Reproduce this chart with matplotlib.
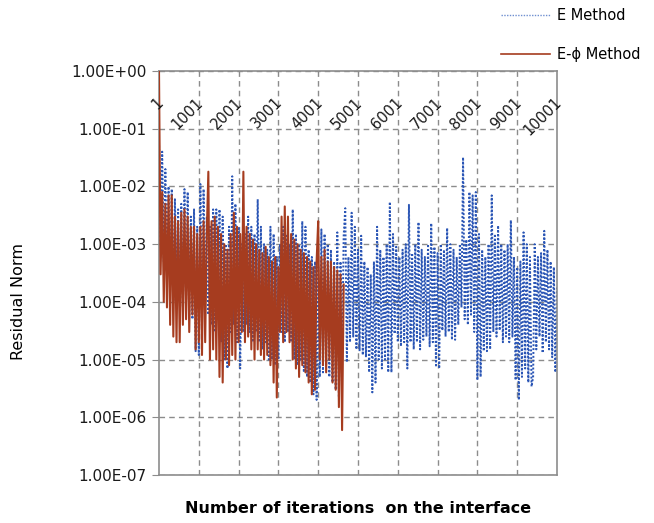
import numpy as np
import matplotlib
matplotlib.use("Agg")
import matplotlib.pyplot as plt
from matplotlib.lines import Line2D

# ----------------------------------------------------------------------
# --- Data (one value every 40 iterations) ---
sample_step = 40

# E-phi method residual norm (iterations 1 .. 4641)
resid_e_phi = [
    1.0, 3e-4, 8e-3, 1e-4, 5e-3, 8e-5, 7e-3, 4e-5, 7e-3, 2.5e-5,
    3e-3, 2e-5, 2.5e-3, 2e-5, 3.5e-3, 4e-5, 4e-3, 5e-5, 3e-3, 3e-5,
    2e-3, 6e-5, 2e-3, 1.5e-5, 1.5e-3, 2e-5, 2e-3, 1.2e-5, 2.5e-3, 2e-5,
    1.5e-3, 1.8e-2, 1e-5, 2.5e-3, 1.5e-5, 3e-3, 1e-5, 2e-3, 5e-6, 1.5e-3,
    4e-6, 1e-3, 1e-5, 8e-4, 8e-6, 1.5e-3, 1.2e-5, 3.5e-3, 1e-5, 2e-3,
    2e-5, 1.5e-3, 3e-5, 1.8e-2, 2e-5, 2e-3, 2.5e-5, 1.5e-3, 1.5e-5, 1.2e-3,
    1e-5, 1e-3, 1.5e-5, 8e-4, 1.2e-5, 7e-4, 1e-5, 9e-4, 1.2e-5, 6e-4,
    8e-6, 5e-4, 4e-6, 6e-4, 2.2e-6, 4e-4, 3e-5, 3e-3, 2e-5, 4.5e-3,
    3e-5, 3e-3, 2e-5, 1.5e-3, 1e-5, 1.2e-3, 7e-6, 1e-3, 5e-6, 8e-4,
    8e-6, 7e-4, 6e-6, 6e-4, 4e-6, 5e-4, 2.5e-6, 4e-4, 3e-6, 5e-4,
    2.5e-3, 1e-5, 6e-4, 8e-6, 8e-4, 6e-6, 5e-4, 1e-5, 5e-4, 4e-6,
    4e-4, 3e-6, 3.5e-4, 1.5e-6, 3e-4, 6e-7, 2e-4,
]

# E method residual norm (iterations 1 .. 10001)
resid_e = [
    6e-2, 1e-3, 4e-2, 5e-4, 2e-2, 3e-4, 1e-2, 2e-4, 9e-3, 1e-4,
    6e-3, 2e-4, 4e-3, 1e-4, 5e-3, 8e-5, 9e-3, 1e-4, 8e-3, 6e-5,
    3e-3, 5e-5, 4e-3, 1.4e-5, 2e-3, 1.2e-5, 1.1e-2, 5e-5, 9e-3, 1e-4,
    3e-3, 6e-5, 2e-3, 4e-5, 4e-3, 3e-5, 4e-3, 5e-5, 4e-3, 2e-5,
    3e-3, 1e-5, 1e-3, 7e-6, 2e-3, 3e-5, 1.5e-2, 4e-5, 5e-3, 2e-5,
    2e-3, 7e-6, 1e-3, 3e-5, 1.5e-3, 4e-5, 3e-3, 3e-5, 2e-3, 2e-5,
    1.5e-3, 3e-5, 6e-3, 2e-5, 2e-3, 1.5e-5, 1e-3, 2e-5, 8e-4, 1e-5,
    2e-3, 1e-5, 1.5e-3, 8e-6, 6e-4, 1e-5, 1e-3, 3e-5, 2e-3, 2e-5,
    1.5e-3, 3e-5, 1e-3, 2e-5, 4e-3, 1e-5, 1.5e-3, 8e-6, 1e-3, 1e-5,
    2.5e-3, 6e-6, 2e-3, 5e-6, 8e-4, 4e-6, 6e-4, 2.5e-6, 5e-4, 2e-6,
    4e-4, 5e-6, 1.8e-3, 6e-6, 1.5e-3, 8e-6, 1e-3, 5e-6, 8e-4, 4e-6,
    5e-4, 3e-6, 1.6e-3, 2.2e-6, 5e-4, 9e-6, 1.4e-3, 4.2e-3, 9e-6, 6e-4,
    2e-5, 3.5e-3, 2.5e-5, 2e-3, 1.5e-5, 8e-4, 1.4e-5, 1.4e-3, 1.2e-5, 5e-4,
    1.1e-5, 4e-4, 6e-6, 3e-4, 2.7e-6, 5e-4, 4e-6, 2e-3, 1e-5, 8e-4,
    7e-6, 6e-4, 1e-5, 1e-3, 6e-6, 5.4e-3, 6e-6, 1.5e-3, 2.8e-5, 9e-4,
    2e-5, 6e-4, 1.7e-5, 8e-4, 2e-5, 1e-3, 7e-6, 4.8e-3, 2e-5, 7e-4,
    1.5e-5, 1e-3, 2e-5, 2.4e-3, 1.5e-5, 8e-4, 2.2e-5, 6e-4, 2.5e-5, 1e-3,
    1.7e-5, 2.3e-3, 2e-5, 9e-4, 7.4e-6, 7e-4, 7e-6, 1e-3, 3.2e-5, 8e-4,
    2.5e-5, 1.9e-3, 3e-5, 1e-3, 2.2e-5, 8e-4, 2.2e-5, 6e-4, 4e-5, 1e-3,
    8e-5, 3.2e-2, 5e-5, 1.2e-3, 4e-5, 8e-3, 6e-5, 7e-3, 3e-5, 8e-3,
    4.4e-6, 1.5e-3, 5e-6, 8e-4, 1.4e-5, 6e-4, 1.4e-5, 1e-3, 1.5e-5, 7e-3,
    3e-5, 1.5e-3, 2.5e-5, 2.1e-3, 3.2e-5, 1e-3, 2e-5, 8e-4, 2.5e-5, 1e-3,
    2e-5, 2.6e-3, 2.5e-5, 6e-4, 4.4e-6, 4e-4, 2e-6, 5e-4, 5e-6, 1.6e-3,
    7e-6, 1e-3, 4e-6, 6e-4, 3.4e-6, 5e-6, 1e-3, 1.5e-5, 6e-4, 2.5e-5,
    7e-4, 1.3e-5, 1.7e-3, 2e-5, 8e-4, 1.5e-5, 5e-4, 1.1e-5, 4e-4, 6e-6,
    1.8e-4,
]

category_ticks = [1, 1001, 2001, 3001, 4001, 5001, 6001, 7001, 8001, 9001, 10001]
category_labels = [str(t) for t in category_ticks]
decades = [1e-7, 1e-6, 1e-5, 1e-4, 1e-3, 1e-2, 1e-1, 1e0]

series_names = ["E Method", "E-\u03d5 Method"]
color_e = "#2a55b5"
color_e_phi = "#a63c1f"
grid_color = "#8c8c8c"

# ----------------------------------------------------------------------
# --- Figure ---
plt.rcParams["font.family"] = ["DejaVu Sans"]

fig = plt.figure(figsize=(6.54, 5.23), dpi=100)
ax = fig.add_axes([159 / 654, 48 / 523, 398 / 654, 404 / 523])

iter_e = 1 + sample_step * np.arange(len(resid_e))
iter_e_phi = 1 + sample_step * np.arange(len(resid_e_phi))

ax.plot(iter_e, resid_e, color=color_e, lw=1.4, linestyle=(0, (1, 1)), zorder=2)
ax.plot(iter_e_phi, resid_e_phi, color=color_e_phi, lw=1.5, zorder=3)

ax.set_yscale("log")
ax.set_ylim(1e-7, 1e0)
ax.set_xlim(1, 10001)

ax.set_yticks(decades)
ax.set_yticklabels([f"{v:.2E}" for v in decades])
ax.yaxis.set_minor_locator(matplotlib.ticker.NullLocator())
ax.tick_params(axis="y", length=5, color=grid_color, labelsize=11, pad=4, labelcolor="#1a1a1a")

ax.set_xticks(category_ticks[1:-1])
ax.set_xticklabels([])
ax.tick_params(axis="x", length=0)

ax.set_axisbelow(True)
ax.grid(True, color=grid_color, linestyle=(0, (4, 3)), lw=1)

for sp in ax.spines.values():
    sp.set_color(grid_color)
    sp.set_linewidth(1.2)

# category labels sit under the top edge, rotated
for t, lab in zip(category_ticks, category_labels):
    ax.annotate(lab, xy=(t, 1.0), xycoords=("data", "axes fraction"),
                xytext=(2, -29), textcoords="offset pixels",
                rotation=45, rotation_mode="anchor", ha="right", va="center",
                fontsize=10.5, color="#1a1a1a")

ax.set_xlabel("Number of iterations  on the interface", fontsize=11.5, fontweight="bold")
ax.xaxis.set_label_coords(0.5, -0.065)
ax.set_ylabel("Residual Norm", fontsize=11.5)
ax.yaxis.set_label_coords(-0.335, 0.43)

handles = [
    Line2D([], [], color="#6f8fd0", lw=1.0, linestyle=(0, (1, 1))),
    Line2D([], [], color=color_e_phi, lw=1.2),
]
fig.legend(handles, series_names, loc="upper left", bbox_to_anchor=(0.7455, 1.01),
           frameon=False, fontsize=10.5, handlelength=3.4, handletextpad=0.45,
           labelspacing=1.63)

fig.savefig("out.png", dpi=100)
